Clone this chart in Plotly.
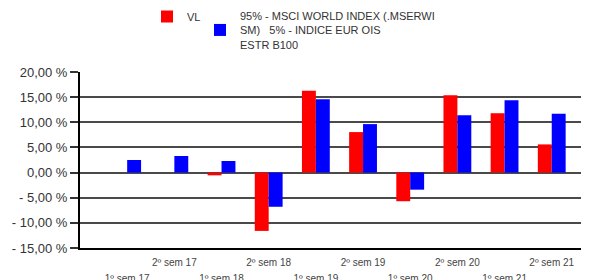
import plotly.graph_objects as go

categories = ["1º sem 17", "2º sem 17", "1º sem 18", "2º sem 18", "1º sem 19",
              "2º sem 19", "1º sem 20", "2º sem 20", "1º sem 21", "2º sem 21"]
vl_values = [None, None, -0.55, -11.6, 16.25, 8.05, -5.7, 15.4, 11.8, 5.6]
bench_values = [2.5, 3.3, 2.3, -6.8, 14.6, 9.64, -3.4, 11.4, 14.4, 11.7]
y_tickvals = [-15, -10, -5, 0, 5, 10, 15, 20]
y_ticktext = ["- 15,00 %", "- 10,00 %", "- 5,00 %", "0,00 %", "5,00 %",
              "10,00 %", "15,00 %", "20,00 %"]
vl_name = "VL"
bench_name = "95% - MSCI WORLD INDEX (.MSERWI<br>SM)   5% - INDICE EUR OIS<br>ESTR B100"

x_idx = list(range(len(categories)))
x_ticktext = [
    ("<span style='font-size:10px'>%s</span>" % c) if i % 2 == 1
    else ("<br><span style='font-size:10px'>%s</span>" % c)
    for i, c in enumerate(categories)
]

fig = go.Figure()
fig.add_trace(go.Bar(x=x_idx, y=vl_values, name=vl_name,
                     marker=dict(color="#ff0000", line=dict(width=0)),
                     legend="legend", showlegend=True))
fig.add_trace(go.Bar(x=x_idx, y=bench_values, name=bench_name,
                     marker=dict(color="#0000ff", line=dict(width=0)),
                     legend="legend2", showlegend=True))

# page has an 8px body margin, so the figure is 8px smaller than the window
W, H = 581, 272
ML, MT, MB = 72, 64, 32
PW, PH = W - ML, H - MT - MB
font_family = "Liberation Sans, Arial, sans-serif"
leg_top = 1 + (MT + 6) / PH
fig.update_layout(
    width=W, height=H,
    margin=dict(l=ML, r=0, t=MT, b=MB, autoexpand=False),
    paper_bgcolor="white", plot_bgcolor="white",
    barmode="group", bargap=0.41, bargroupgap=0,
    showlegend=True,
    font=dict(family=font_family, color="#333333"),
    legend=dict(x=(139 - ML) / PW, y=leg_top, xanchor="left", yanchor="top",
                xref="paper", yref="paper", bgcolor="rgba(0,0,0,0)",
                font=dict(size=11, color="#333333"), borderwidth=0,
                visible=True),
    legend2=dict(x=(192 - ML) / PW, y=leg_top, xanchor="left", yanchor="top",
                 xref="paper", yref="paper",
                 bgcolor="rgba(0,0,0,0)",
                 font=dict(size=11, color="#333333"), borderwidth=0,
                 visible=True),
    xaxis=dict(range=[-1, 9.79], tickmode="array", tickvals=x_idx,
               ticktext=x_ticktext, showgrid=False, zeroline=False,
               showline=True, linecolor="black", linewidth=2,
               ticks="", tickangle=0, automargin=False,
               ticklabelstandoff=2,
               tickfont=dict(size=12, color="#444444"),
               fixedrange=True),
    yaxis=dict(range=[-15, 20], tickmode="array", tickvals=y_tickvals,
               ticktext=y_ticktext, showgrid=True, gridcolor="#4a4a4a",
               gridwidth=2, zeroline=False, showline=True, automargin=False,
               linecolor="black", linewidth=2, ticks="outside",
               ticklen=8, tickwidth=1.5, tickcolor="#333333",
               tickfont=dict(size=13, color="#333333"), fixedrange=True),
)

fig.write_html("out.html", config={"displayModeBar": False})
